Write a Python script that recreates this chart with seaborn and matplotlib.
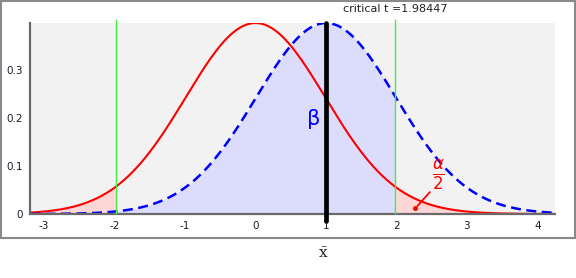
import numpy as np
import pandas as pd
import seaborn as sns
import matplotlib.pyplot as plt
from matplotlib.patches import Rectangle
from matplotlib.ticker import MultipleLocator, FuncFormatter
from math import gamma, sqrt, pi

# parametres
deg_lib = 98          # ddl qui donne t critique = 1.98447
t_crit = 1.98447
decalage = 1.0        # moyenne de la distribution alternative
x_min, x_max = -3.2, 4.25
y_max = 0.398

x = np.linspace(x_min, x_max, 800)


def t_pdf(v, nu):
    c = gamma((nu + 1) / 2) / (sqrt(nu * pi) * gamma(nu / 2))
    return c * (1 + v ** 2 / nu) ** (-(nu + 1) / 2)


courbes = pd.DataFrame({
    "x": x,
    "h0": t_pdf(x, deg_lib),
    "h1": t_pdf(x - decalage, deg_lib),
})

sns.set_theme(style="white")
plt.rcParams["font.family"] = ["DejaVu Sans"]
plt.rcParams["axes.unicode_minus"] = False
plt.rcParams["mathtext.fontset"] = "dejavusans"

fig = plt.figure(figsize=(5.76, 2.78), dpi=100)
ax = fig.add_axes([30 / 576, 64 / 278, 525 / 576, 191 / 278])
ax.set_facecolor("#f2f2f2")

# zones colorees
queue_g = courbes["x"] <= -t_crit
queue_d = courbes["x"] >= t_crit
milieu = ~queue_g & ~queue_d
ax.fill_between(courbes["x"][queue_g], 0, courbes["h0"][queue_g], color="#ffd6d6", lw=0)
ax.fill_between(courbes["x"][queue_d], 0, courbes["h0"][queue_d], color="#ffd6d6", lw=0)
ax.fill_between(courbes["x"][milieu], 0, courbes["h1"][milieu], color="#dcdcfc", lw=0)

sns.lineplot(data=courbes, x="x", y="h0", ax=ax, color="red", lw=1.5)
sns.lineplot(data=courbes, x="x", y="h1", ax=ax, color="blue", lw=1.8)
ax.lines[-1].set_dashes((4, 2.2))

# lignes critiques vertes + ligne noire a la moyenne alternative
for tc in (-t_crit, t_crit):
    ax.vlines(tc, 0, y_max + 0.009, color="#44ee44", lw=1, clip_on=False, zorder=3)
ax.vlines(decalage, -0.015, t_pdf(0, deg_lib), color="black", lw=3.4, clip_on=False,
          zorder=4, capstyle="round")

ax.text(0.82, 0.198, "β", color="blue", fontsize=15, ha="center", va="center")
ax.text(2.6, 0.08, r"$\frac{\alpha}{2}$", color="red", fontsize=17, ha="center", va="center")
ax.annotate("", xy=(2.27, 0.012), xytext=(2.5, 0.05),
            arrowprops=dict(arrowstyle="-", color="red", lw=1.3))
ax.plot([2.27], [0.012], "o", color="red", ms=2.5)

ax.set_xlim(x_min, x_max)
ax.set_ylim(0, y_max)
ax.xaxis.set_major_locator(MultipleLocator(1))
ax.xaxis.set_minor_locator(MultipleLocator(0.5))
ax.yaxis.set_major_locator(MultipleLocator(0.1))
ax.yaxis.set_minor_locator(MultipleLocator(0.05))
ax.yaxis.set_major_formatter(FuncFormatter(lambda v, p: "0" if abs(v) < 1e-9 else f"{v:g}"))
ax.tick_params(which="both", direction="out", length=3, width=1, color="#555",
               labelsize=7.5, labelcolor="#1a1a2a", pad=2)
ax.tick_params(which="minor", length=2.5)
ax.set_xlabel("")
ax.set_ylabel("")

for s in ("top", "right"):
    ax.spines[s].set_visible(False)
for s in ("left", "bottom"):
    ax.spines[s].set_color("#6a6a6a")
    ax.spines[s].set_linewidth(1.6)

fig.text(395 / 576, 1 - 9 / 278, "critical t =1.98447", fontsize=8, ha="center",
         va="center", color="#222")
fig.text(323 / 576, 1 - 254 / 278, r"$\bar{\mathrm{x}}$", fontsize=11, ha="center",
         va="center", color="#222", math_fontfamily="dejavuserif")

fig.patches.append(Rectangle((0.001, 40 / 278), 0.997, 1 - 40 / 278 - 0.003,
                             transform=fig.transFigure, fill=False,
                             edgecolor="#8a8a8a", lw=1.5))

fig.savefig("out.png", dpi=100)
